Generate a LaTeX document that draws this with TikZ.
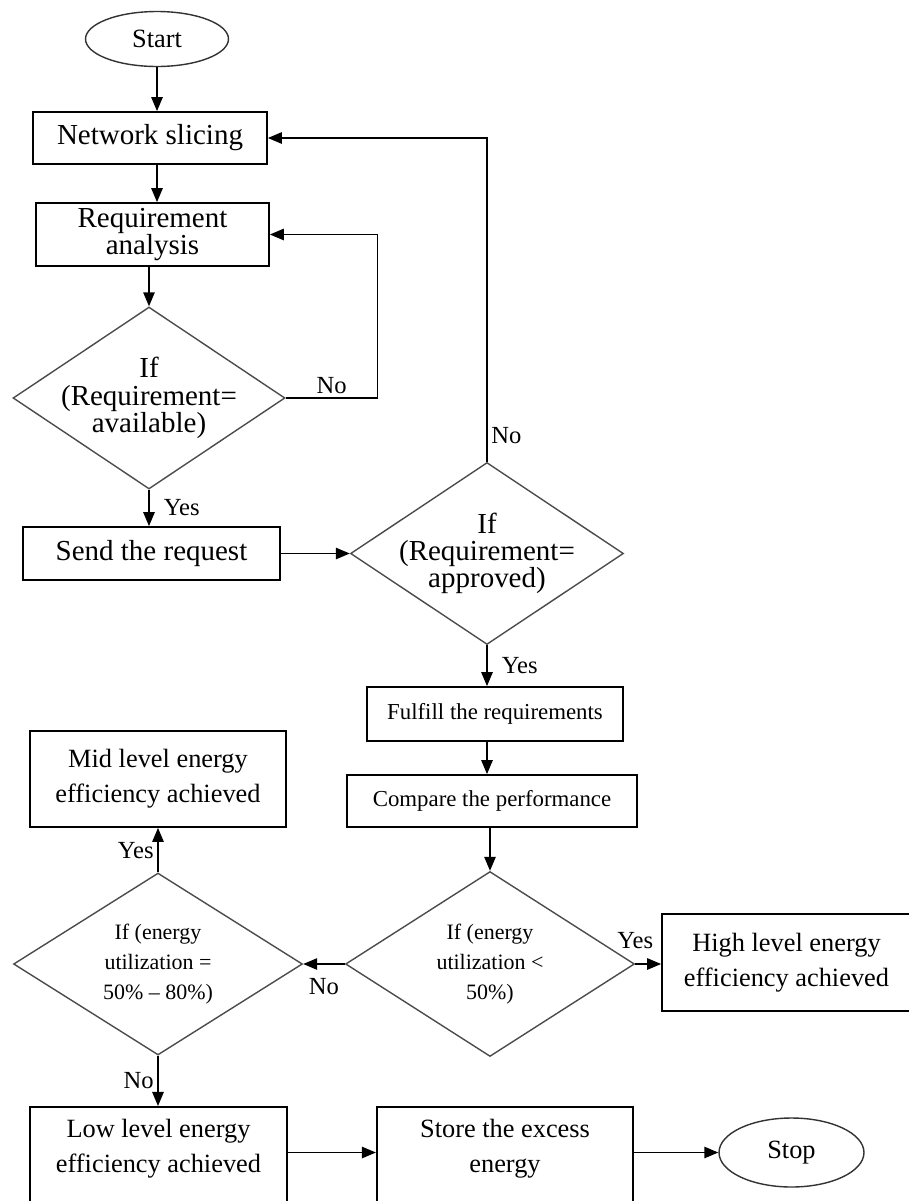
\documentclass[tikz,border=0pt]{standalone}
\usepackage{fontspec}
\setmainfont{Liberation Serif}
\usetikzlibrary{shapes.geometric,arrows.meta}

\begin{document}
\begin{tikzpicture}[x=0.02cm,y=-0.02cm,
		arr/.style={-{Triangle[length=8pt,width=6.5pt]},line width=0.9pt},
		box/.style={draw,line width=1pt,align=center,inner sep=2pt},
		raute/.style={diamond,draw=black!70,line width=0.8pt,align=center,inner sep=-8pt,aspect=1.5},
		oval/.style={ellipse,draw=black!80,line width=0.8pt,font=\fontsize{15}{18}\selectfont},
		grossschrift/.style={font=\fontsize{16.5}{15.5}\selectfont},
		kleinschrift/.style={font=\fontsize{13}{16}\selectfont},
		mittelschrift/.style={font=\fontsize{15}{19.8}\selectfont},
		rautenschrift/.style={font=\fontsize{12.5}{17}\selectfont},
		unten/.style={anchor=north,minimum width=5.13cm,inner ysep=7pt,text depth=22pt},
		etikett/.style={font=\fontsize{14}{16}\selectfont,inner sep=2pt}]
		% Rahmen und Zuschnitt
		\useasboundingbox (0,0) rectangle (909,1201);
		\clip (0,0) rectangle (909,1201);
		
		% Linke Spalte oben
		\node[oval, minimum width=2.86cm, minimum height=1.1cm] (start) at (157,39) {Start};
		\node[box, grossschrift, minimum width=4.68cm, minimum height=1.04cm] (netz) at (150,138) {Network slicing};
		\node[box, grossschrift, minimum width=4.66cm, minimum height=1.26cm] (anf) at (152.5,234.5) {Requirement\\analysis};
		\node[raute, grossschrift, minimum width=5.44cm, minimum height=3.64cm] (verf) at (149,398) {If\\(Requirement=\\available)};
		\node[box, grossschrift, minimum width=5.14cm, minimum height=1.06cm] (senden) at (151.5,553.5) {Send the request};
		
		% Rechte Spalte
		\node[raute, grossschrift, minimum width=5.46cm, minimum height=3.64cm] (genehm) at (487,553.5) {If\\(Requirement=\\approved)};
		\node[box, kleinschrift, minimum width=5.12cm, minimum height=1.08cm] (erfuellen) at (495,714) {Fulfill the requirements};
		\node[box, kleinschrift, minimum width=5.8cm, minimum height=1.04cm] (vergleich) at (492,801) {Compare the performance};
		\node[raute, rautenschrift, minimum width=5.78cm, minimum height=3.7cm] (unter) at (490,964) {If (energy\\utilization <\\50\%)};
		\node[box, mittelschrift, minimum width=4.98cm, minimum height=1.94cm] (hoch) at (786.5,962.5) {High level energy\\efficiency achieved};
		
		% Linke Spalte unten
		\node[box, mittelschrift, minimum width=5.12cm, minimum height=1.92cm] (mittel) at (158,779) {Mid level energy\\efficiency achieved};
		\node[raute, rautenschrift, minimum width=5.78cm, minimum height=3.64cm] (bereich) at (158,964) {If (energy\\utilization =\\50\% -- 80\%)};
		\node[box, mittelschrift, unten] (niedrig) at (158.5,1106) {Low level energy\\efficiency achieved};
		\node[box, mittelschrift, unten] (speicher) at (505,1106) {Store the excess\\energy};
		\node[oval, minimum width=2.9cm, minimum height=1.38cm] (stop) at (791.5,1152.5) {Stop};
		
		% Pfeile oben
		\draw[arr] (start.south) -- (start.south |- netz.north);
		\draw[arr] (netz.south -| start.south) -- (anf.north -| start.south);
		\draw[arr] (anf.south -| verf.north) -- (verf.north);
		\draw[arr] (verf.south) -- node[etikett, right=6pt] {Yes} (verf.south |- senden.north);
		\draw[arr] (verf.east) -- node[etikett, above] {No} ++(92,0) |- (anf.east);
		\draw[arr] (senden.east) -- (senden.east -| genehm.west);
		\draw[arr] (genehm.north) -- node[etikett, pos=0.08, right] {No} (genehm.north |- netz.east) -- (netz.east);
		
		% Pfeile rechts
		\draw[arr] (genehm.south) -- node[etikett, right=6pt] {Yes} (genehm.south |- erfuellen.north);
		\draw[arr] (genehm.south |- erfuellen.south) -- (genehm.south |- vergleich.north);
		\draw[arr] (vergleich.south -| unter.north) -- (unter.north);
		\draw[arr] (unter.east) -- node[etikett, pos=0, above=6pt] {Yes} (unter.east -| hoch.west);
		\draw[arr] (unter.west) -- node[etikett, below=6pt] {No} (bereich.east);
		
		% Pfeile unten
		\draw[arr] (bereich.north) -- node[etikett, left] {Yes} (bereich.north |- mittel.south);
		\draw[arr] (bereich.south) -- node[etikett, left] {No} (bereich.south |- niedrig.north);
		\draw[arr] (stop.west -| niedrig.east) -- (stop.west -| speicher.west);
		\draw[arr] (stop.west -| speicher.east) -- (stop.west);
	\end{tikzpicture}
\end{document}
